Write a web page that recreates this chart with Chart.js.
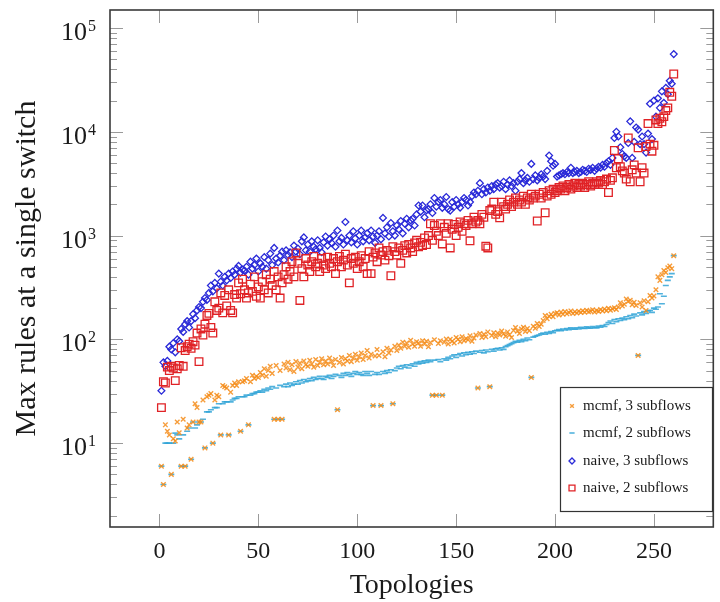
<!DOCTYPE html>
<html>
<head>
<meta charset="utf-8">
<script src="https://cdn.jsdelivr.net/npm/chart.js@4.4.1/dist/chart.umd.min.js"></script>
<style>
  html, body { margin: 0; padding: 0; background: #fff; }
  canvas { display: block; }
</style>
</head>
<body>
<canvas id="chart" width="720" height="602"></canvas>
<script>
// axis ticks
const xTicks = [0, 50, 100, 150, 200, 250];
const yDecades = [10, 100, 1000, 10000, 100000];
const yMinorSteps = [2, 3, 4, 5, 6, 7, 8, 9];

const seriesLabels = ['mcmf, 3 subflows', 'mcmf, 2 subflows', 'naive, 3 subflows', 'naive, 2 subflows'];

// values per topology (topology 1 .. 260, sorted)
const mcmf3 = [
  6, 4, 15, 13, 12, 5, 11, 10.5, 16, 12.6,
  6, 17, 6, 14, 15, 7, 16, 24, 22, 16,
  16, 26, 9, 28, 29, 30, 10, 26, 29, 28,
  12, 36, 35, 34, 12, 31, 36, 38, 36, 39,
  13, 39, 40, 42, 15, 39, 45, 42, 44, 43,
  48, 45, 52, 44, 50, 55, 47, 17, 56, 17,
  50, 17, 58, 53, 60, 51, 57, 49, 61, 54,
  59, 52, 62, 57, 55, 63, 58, 54, 64, 56,
  60, 65, 57, 62, 58, 66, 61, 56, 64, 21,
  60, 67, 58, 65, 62, 70, 61, 66, 72, 63,
  68, 74, 64, 70, 78, 66, 72, 23, 69, 80,
  70, 23, 76, 68, 82, 74, 79, 24, 86, 78,
  88, 82, 94, 86, 92, 84, 98, 90, 86, 95,
  92, 86, 97, 90, 96, 85, 93, 29, 99, 29,
  91, 97, 29, 94, 101, 90, 100, 96, 92, 104,
  100, 95, 106, 97, 102, 99, 108, 96, 103, 110,
  34, 114, 104, 112, 106, 118, 35, 109, 116, 106,
  115, 110, 120, 113, 107, 118, 111, 104, 122, 130,
  120, 114, 126, 131, 119, 127, 121, 43, 134, 128,
  142, 133, 140, 152, 170, 158, 167, 174, 165, 177,
  180, 172, 183, 175, 185, 176, 181, 188, 177, 184,
  179, 187, 181, 189, 182, 191, 184, 187, 193, 183,
  190, 186, 194, 188, 196, 189, 199, 191, 197, 202,
  194, 205, 225, 210, 218, 245, 232, 238, 215, 228,
  212, 70, 225, 205, 235, 190, 230, 265, 250, 262,
  300, 400, 370, 420, 460, 440, 490, 510, 480, 640
];

const mcmf2 = [
  6, 4, 10, 10, 10, 5, 10, 12.5, 12, 11,
  6, 12, 6, 13, 14, 7, 16, 14, 15, 16,
  16, 17, 9, 20, 20, 21, 10, 22, 22, 24,
  12, 24, 25, 25, 12, 25, 26, 27, 27, 28,
  13, 28, 28, 29, 15, 29, 30, 30, 31, 31,
  32, 31, 33, 32, 34, 33, 35, 17, 34, 17,
  36, 17, 35, 37, 35, 38, 36, 37, 39, 37,
  40, 38, 41, 39, 40, 42, 40, 43, 41, 42,
  44, 42, 41, 44, 43, 45, 42, 44, 46, 21,
  45, 43, 47, 45, 48, 46, 44, 47, 49, 46,
  48, 46, 45, 49, 47, 45, 49, 23, 46, 48,
  46, 23, 49, 47, 50, 48, 51, 24, 50, 53,
  55, 52, 56, 54, 57, 53, 56, 58, 55, 60,
  58, 61, 59, 62, 60, 63, 61, 29, 63, 29,
  64, 61, 29, 65, 63, 67, 65, 69, 71, 67,
  71, 73, 69, 74, 71, 75, 72, 76, 73, 77,
  34, 75, 78, 74, 79, 76, 35, 80, 77, 81,
  82, 79, 83, 80, 85, 87, 89, 91, 93, 96,
  94, 98, 95, 100, 97, 103, 99, 43, 105, 107,
  109, 110, 113, 115, 112, 117, 114, 119, 116, 121,
  122, 124, 121, 126, 123, 127, 124, 129, 126, 125,
  129, 126, 131, 128, 127, 132, 129, 128, 133, 130,
  129, 134, 131, 136, 133, 139, 145, 150, 142, 155,
  148, 158, 152, 160, 155, 165, 158, 170, 162, 175,
  168, 70, 180, 172, 185, 178, 188, 190, 182, 200,
  195, 205, 275, 220, 260, 330, 370, 400, 430, 640
];

const naive3 = [
  32, 60, 55, 62, 85, 80, 92, 75, 100, 96,
  126, 118, 140, 150, 130, 150, 175, 160, 190, 205,
  200, 230, 250, 240, 280, 330, 290, 350, 310, 430,
  360, 330, 400, 370, 430, 390, 450, 420, 480, 510,
  440, 470, 460, 500, 420, 560, 480, 520, 600, 450,
  540, 500, 620, 480, 580, 670, 520, 760, 600, 550,
  640, 700, 580, 720, 650, 690, 620, 800, 700, 750,
  660, 880, 960, 720, 820, 700, 880, 780, 740, 900,
  760, 690, 860, 980, 800, 920, 850, 1000, 780, 1120,
  880, 950, 820, 1350, 900, 1000, 860, 1100, 940, 820,
  1000, 1120, 880, 960, 1050, 900, 1120, 980, 850, 1000,
  1100, 920, 1480, 1050, 1200, 980, 1320, 1100, 1000, 1250,
  1150, 1380, 1050, 1300, 1450, 1200, 1400, 1450, 1250, 1600,
  1950, 1700, 1950, 1500, 1750, 1800, 2000, 1650, 2300, 1900,
  2100, 2200, 1850, 2000, 2350, 1800, 1740, 2100, 1900, 2200,
  2000, 1860, 2100, 2300, 2200, 1950, 2100, 2400, 2600, 2500,
  2700, 3200, 2500, 2800, 2600, 2900, 2700, 3000, 2800, 3100,
  3200, 2900, 3000, 3300, 2800, 3100, 3400, 3000, 3200, 2700,
  3300, 3500, 4000, 3200, 3400, 3600, 3300, 4900, 3500, 3800,
  3400, 3600, 3900, 3700, 3500, 4200, 5900, 5200, 4700, 4900,
  3700, 3800, 3900, 4000, 3900, 4100, 4000, 4500, 4000, 4100,
  4200, 4000, 4100, 4300, 4200, 4100, 4400, 4300, 4500, 4200,
  4400, 4600, 4500, 4800, 4600, 5000, 5200, 4800, 5600, 8700,
  10000, 9000, 7100, 6100, 5800, 5600, 7800, 12600, 5600, 8000,
  11000, 10500, 7600, 9000, 7600, 6300, 9600, 18600, 8500, 20000,
  14000, 21000, 17000, 24500, 19000, 26500, 23000, 31000, 29000, 56000
];

const naive2 = [
  22, 39, 38, 54, 50, 55, 53, 40, 52, 56,
  83, 55, 78, 85, 90, 82, 95, 88, 115, 61,
  126, 110, 140, 170, 178, 130, 115, 230, 190, 200,
  280, 180, 265, 210, 300, 190, 180, 270, 250, 350,
  275, 380, 300, 250, 280, 340, 290, 400, 260, 320,
  250, 360, 300, 420, 280, 380, 330, 450, 300, 400,
  250, 350, 420, 500, 380, 450, 560, 400, 680, 540,
  237, 480, 400, 600, 520, 450, 560, 630, 500, 540,
  450, 600, 520, 480, 620, 540, 500, 600, 430, 560,
  630, 500, 580, 660, 520, 350, 600, 540, 620, 480,
  560, 640, 500, 600, 430, 700, 430, 620, 680, 560,
  760, 650, 700, 580, 720, 640, 410, 780, 700, 650,
  760, 540, 720, 800, 680, 820, 760, 700, 850, 900,
  780, 860, 800, 950, 820, 1000, 1300, 900, 1250, 1100,
  1000, 1300, 830, 1200, 1050, 1300, 760, 1150, 1280, 1000,
  1200, 1350, 1100, 1300, 1250, 1400, 890, 1300, 1500, 1350,
  1400, 1300, 1600, 1500, 790, 760, 1740, 1800, 2100, 1600,
  1700, 1480, 2100, 1900, 1800, 2000, 2200, 1900, 2100, 2300,
  2000, 2200, 2100, 2400, 2000, 2300, 2200, 2500, 2300, 2400,
  1380, 2500, 2300, 2600, 1660, 2400, 2700, 2500, 2800, 2600,
  2700, 2900, 2800, 3000, 2700, 2900, 3100, 2800, 3000, 3200,
  2900, 3100, 3000, 3200, 2900, 3100, 3300, 3000, 3200, 3100,
  3300, 3200, 3400, 3100, 3300, 3500, 2600, 3400, 3600, 6600,
  4500, 5500, 4600, 4200, 4000, 3500, 8700, 3300, 4300, 4800,
  4000, 7000, 3300, 4500, 4000, 7200, 12000, 7600, 6500, 7400,
  13000, 12000, 13500, 12500, 14000, 16000, 17000, 24000, 22000, 36000
];

const SERIF = '"Liberation Serif", "DejaVu Serif", serif';

function toPoints(values) {
  return values.map((v, i) => ({ x: i + 1, y: v }));
}

const datasets = [
  {
    label: seriesLabels[0], data: toPoints(mcmf3), order: 2,
    pointStyle: 'crossRot', pointRadius: 3.2, borderWidth: 1.4,
    borderColor: 'rgba(245,140,25,0.85)', backgroundColor: 'rgba(245,140,25,0.85)',
    legendRadius: 2.6
  },
  {
    label: seriesLabels[1], data: toPoints(mcmf2), order: 3,
    pointStyle: 'line', pointRadius: 3, borderWidth: 1.6,
    borderColor: 'rgba(50,165,215,0.85)', backgroundColor: 'rgba(50,165,215,0.85)',
    legendRadius: 2.6
  },
  {
    label: seriesLabels[2], data: toPoints(naive3), order: 1,
    pointStyle: 'rectRot', pointRadius: 3.4, borderWidth: 1.3,
    borderColor: '#2a2ad8', backgroundColor: 'rgba(0,0,0,0)',
    legendRadius: 3
  },
  {
    label: seriesLabels[3], data: toPoints(naive2), order: 0,
    pointStyle: 'rect', pointRadius: 5.4, borderWidth: 1.3,
    borderColor: '#e02226', backgroundColor: 'rgba(0,0,0,0)',
    legendRadius: 4.2
  }
];

// frame, inward ticks, y labels with exponents, legend
const decorPlugin = {
  id: 'decor',
  beforeDatasetsDraw(chart) {
    const { ctx, chartArea: a, scales } = chart;
    const xs = scales.x, ys = scales.y;
    ctx.save();
    ctx.strokeStyle = '#9a9a9a';
    ctx.lineWidth = 1;
    xTicks.forEach(v => {
      const px = Math.round(xs.getPixelForValue(v)) + 0.5;
      ctx.beginPath();
      ctx.moveTo(px, a.bottom); ctx.lineTo(px, a.bottom - 13);
      ctx.moveTo(px, a.top); ctx.lineTo(px, a.top + 13);
      ctx.stroke();
    });
    const minors = [];
    [1, 10, 100, 1000, 10000].forEach(d => yMinorSteps.forEach(m => minors.push(d * m)));
    minors.filter(v => v >= ys.min && v <= ys.max).forEach(v => {
      const py = Math.round(ys.getPixelForValue(v)) + 0.5;
      ctx.beginPath();
      ctx.moveTo(a.left, py); ctx.lineTo(a.left + 7, py);
      ctx.moveTo(a.right, py); ctx.lineTo(a.right - 7, py);
      ctx.stroke();
    });
    yDecades.forEach(v => {
      const py = Math.round(ys.getPixelForValue(v)) + 0.5;
      ctx.beginPath();
      ctx.moveTo(a.left, py); ctx.lineTo(a.left + 13, py);
      ctx.moveTo(a.right, py); ctx.lineTo(a.right - 13, py);
      ctx.stroke();
    });
    ctx.restore();
  },
  afterDraw(chart) {
    const { ctx, chartArea: a, scales } = chart;
    const ys = scales.y;
    ctx.save();
    // frame
    ctx.strokeStyle = '#3a3a3a';
    ctx.lineWidth = 1.6;
    ctx.strokeRect(a.left, a.top, a.right - a.left, a.bottom - a.top);

    // y tick labels 10^n
    ctx.fillStyle = '#1a1a1a';
    yDecades.forEach(v => {
      const py = ys.getPixelForValue(v);
      const exp = String(Math.round(Math.log10(v)));
      ctx.font = '16px ' + SERIF;
      ctx.textAlign = 'left';
      ctx.textBaseline = 'alphabetic';
      ctx.fillText(exp, 88, py + 3);
      ctx.font = '26px ' + SERIF;
      ctx.textAlign = 'right';
      ctx.fillText('10', 87, py + 12);
    });

    // legend
    const lx = 560, ly = 387, lw = 152, lh = 124;
    ctx.fillStyle = '#fff';
    ctx.fillRect(lx, ly, lw, lh);
    ctx.strokeStyle = '#333';
    ctx.lineWidth = 1.2;
    ctx.strokeRect(lx + 0.5, ly + 0.5, lw, lh);
    const rowY = [406, 433, 461, 488];
    chart.data.datasets.forEach((ds, i) => {
      ctx.strokeStyle = ds.borderColor;
      ctx.fillStyle = ds.backgroundColor;
      ctx.lineWidth = ds.borderWidth;
      Chart.helpers.drawPoint(ctx, {
        pointStyle: ds.pointStyle,
        radius: ds.legendRadius,
        borderWidth: ds.borderWidth,
        rotation: 0
      }, 572, rowY[i]);
      ctx.fillStyle = '#1a1a1a';
      ctx.font = '15px ' + SERIF;
      ctx.textAlign = 'left';
      ctx.textBaseline = 'middle';
      ctx.fillText(ds.label, 583, rowY[i]);
    });
    ctx.restore();
  }
};

new Chart(document.getElementById('chart'), {
  type: 'scatter',
  data: { datasets },
  options: {
    responsive: false,
    animation: false,
    devicePixelRatio: 1,
    layout: { padding: { top: 10, right: 1, left: 0, bottom: 0 } },
    plugins: {
      legend: { display: false },
      tooltip: { enabled: false }
    },
    scales: {
      x: {
        type: 'linear',
        min: -25,
        max: 280,
        afterFit(s) { s.height = 75; },
        afterBuildTicks(s) { s.ticks = xTicks.map(v => ({ value: v })); },
        grid: { display: false, drawTicks: false },
        border: { display: false },
        ticks: {
          padding: 10,
          color: '#1a1a1a',
          font: { family: SERIF, size: 24 }
        },
        title: {
          display: true,
          text: 'Topologies',
          color: '#1a1a1a',
          font: { family: SERIF, size: 28 },
          padding: { top: 0, bottom: 0 }
        }
      },
      y: {
        type: 'logarithmic',
        min: 1.556,
        max: 149000,
        afterFit(s) { s.width = 110; },
        grid: { display: false, drawTicks: false },
        border: { display: false },
        ticks: { display: false },
        title: {
          display: true,
          text: 'Max rules at a single switch',
          color: '#1a1a1a',
          font: { family: SERIF, size: 30 },
          padding: { top: 9, bottom: 0 }
        }
      }
    }
  },
  plugins: [decorPlugin]
});
</script>
</body>
</html>
